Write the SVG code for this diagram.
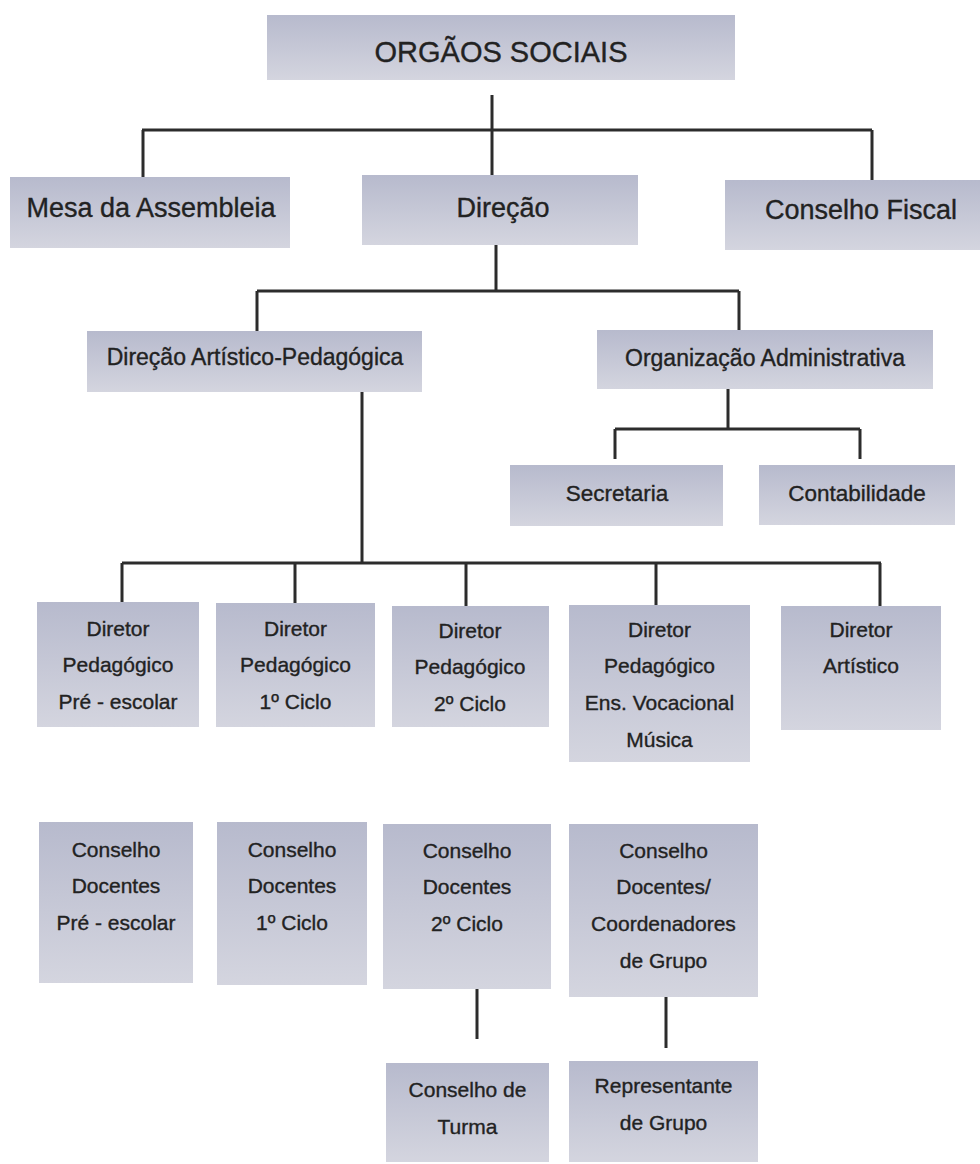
<svg xmlns="http://www.w3.org/2000/svg" width="980" height="1164" viewBox="0 0 980 1164">
<defs>
<linearGradient id="g" x1="0" y1="0" x2="0" y2="1">
<stop offset="0" stop-color="#b7bacd"/>
<stop offset="1" stop-color="#d4d5df"/>
</linearGradient>
<style>
.b{fill:url(#g);}
.t{font-family:"Liberation Sans",Arial,sans-serif;fill:#222222;stroke:#222222;stroke-width:0.35;text-anchor:middle;}
.l{stroke:#2c2c2c;stroke-width:3;fill:none;}
</style>
</defs>
<rect width="980" height="1164" fill="#ffffff"/>
<g id="connectors">
<path class="l" d="M492 95V176M142 130H872M143 130V177M872 130V180"/>
<path class="l" d="M496 245V291M257 291H739M257 291V331M739 291V330"/>
<path class="l" d="M728 389V429M615 429H860M615 429V459M860 429V459"/>
<path class="l" d="M362 392V563M122 563H881M122 563V602M295 563V603M466 563V606M656 563V605M880 563V606"/>
<path class="l" d="M477 989V1039M666 997V1048"/>
</g>
<g id="orgaos"><rect class="b" x="267" y="15" width="468" height="65"/><text class="t" x="501" y="62" font-size="29">ORGÃOS SOCIAIS</text></g>
<g id="mesa"><rect class="b" x="10" y="177" width="280" height="71"/><text class="t" x="151" y="217" font-size="27">Mesa da Assembleia</text></g>
<g id="direcao"><rect class="b" x="362" y="175" width="276" height="70"/><text class="t" x="503" y="217" font-size="27">Direção</text></g>
<g id="fiscal"><rect class="b" x="725" y="180" width="255" height="70"/><text class="t" x="861" y="219" font-size="27">Conselho Fiscal</text></g>
<g id="dap"><rect class="b" x="87" y="331" width="335" height="61"/><text class="t" x="255" y="365" font-size="23">Direção Artístico-Pedagógica</text></g>
<g id="orgadmin"><rect class="b" x="597" y="330" width="336" height="59"/><text class="t" x="765" y="366" font-size="23">Organização Administrativa</text></g>
<g id="secretaria"><rect class="b" x="510" y="465" width="213" height="61"/><text class="t" x="617" y="501" font-size="22.5">Secretaria</text></g>
<g id="contabilidade"><rect class="b" x="759" y="465" width="196" height="60"/><text class="t" x="857" y="501" font-size="22.5">Contabilidade</text></g>
<g id="dir-pre"><rect class="b" x="37" y="602" width="162" height="125"/><text class="t" font-size="21"><tspan x="118" y="636">Diretor</tspan><tspan x="118" y="672">Pedagógico</tspan><tspan x="118" y="709">Pré - escolar</tspan></text></g>
<g id="dir-1"><rect class="b" x="216" y="603" width="159" height="124"/><text class="t" font-size="21"><tspan x="295.5" y="636">Diretor</tspan><tspan x="295.5" y="672">Pedagógico</tspan><tspan x="295.5" y="709">1º Ciclo</tspan></text></g>
<g id="dir-2"><rect class="b" x="392" y="606" width="157" height="121"/><text class="t" font-size="21"><tspan x="470" y="638">Diretor</tspan><tspan x="470" y="674">Pedagógico</tspan><tspan x="470" y="711">2º Ciclo</tspan></text></g>
<g id="dir-evm"><rect class="b" x="569" y="605" width="181" height="157"/><text class="t" font-size="21"><tspan x="659.5" y="637">Diretor</tspan><tspan x="659.5" y="673">Pedagógico</tspan><tspan x="659.5" y="710">Ens. Vocacional</tspan><tspan x="659.5" y="747">Música</tspan></text></g>
<g id="dir-art"><rect class="b" x="781" y="606" width="160" height="124"/><text class="t" font-size="21"><tspan x="861" y="637">Diretor</tspan><tspan x="861" y="673">Artístico</tspan></text></g>
<g id="cd-pre"><rect class="b" x="39" y="822" width="154" height="161"/><text class="t" font-size="21"><tspan x="116" y="857">Conselho</tspan><tspan x="116" y="893">Docentes</tspan><tspan x="116" y="930">Pré - escolar</tspan></text></g>
<g id="cd-1"><rect class="b" x="217" y="822" width="150" height="163"/><text class="t" font-size="21"><tspan x="292" y="857">Conselho</tspan><tspan x="292" y="893">Docentes</tspan><tspan x="292" y="930">1º Ciclo</tspan></text></g>
<g id="cd-2"><rect class="b" x="383" y="824" width="168" height="165"/><text class="t" font-size="21"><tspan x="467" y="858">Conselho</tspan><tspan x="467" y="894">Docentes</tspan><tspan x="467" y="931">2º Ciclo</tspan></text></g>
<g id="cd-coord"><rect class="b" x="569" y="824" width="189" height="173"/><text class="t" font-size="21"><tspan x="663.5" y="858">Conselho</tspan><tspan x="663.5" y="894">Docentes/</tspan><tspan x="663.5" y="931">Coordenadores</tspan><tspan x="663.5" y="968">de Grupo</tspan></text></g>
<g id="turma"><rect class="b" x="386" y="1063" width="163" height="99"/><text class="t" font-size="21"><tspan x="467.5" y="1097">Conselho de</tspan><tspan x="467.5" y="1134">Turma</tspan></text></g>
<g id="representante"><rect class="b" x="569" y="1061" width="189" height="101"/><text class="t" font-size="21"><tspan x="663.5" y="1093">Representante</tspan><tspan x="663.5" y="1130">de Grupo</tspan></text></g>
</svg>
